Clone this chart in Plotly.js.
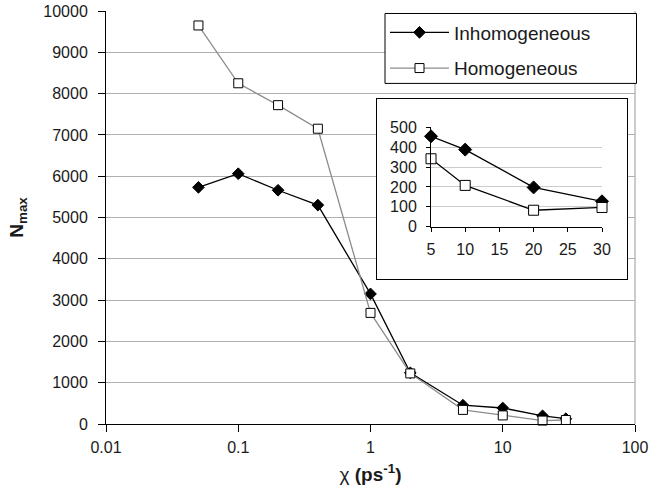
<!DOCTYPE html>
<html>
<head>
<meta charset="utf-8">
<script src="https://cdn.plot.ly/plotly-3.0.1.min.js"></script>
<style>
  html, body { margin: 0; padding: 0; background: #fff; }
  #chart { width: 650px; height: 494px; }
</style>
</head>
<body>
<div id="chart"></div>
<script>
// ---- data ----
const chi = [0.05, 0.1, 0.2, 0.4, 1, 2, 5, 10, 20, 30];
const inhomogeneous = [5730, 6060, 5660, 5300, 3150, 1240, 455, 388, 198, 128];
const homogeneous   = [9650, 8250, 7720, 7150, 2690, 1225, 342, 208, 83, 97];

const insetChi = [5, 10, 20, 30];
const insetInhomogeneous = [455, 388, 198, 128];
const insetHomogeneous   = [342, 208, 83, 97];

const xTickVals = [0.01, 0.1, 1, 10, 100];
const xTickText = ['0.01', '0.1', '1', '10', '100'];
const seriesNames = ['Inhomogeneous', 'Homogeneous'];

// ---- style ----
const FONT = 'Liberation Sans, Arial, sans-serif';
const TXT = '#1a1a1a';

const traces = [
  {
    x: chi, y: inhomogeneous, name: seriesNames[0], type: 'scatter', mode: 'lines+markers',
    line: {color: '#000', width: 1.3},
    marker: {symbol: 'diamond', size: 9, color: '#000', line: {color: '#000', width: 1}},
    cliponaxis: false, legendgroup: 'a'
  },
  {
    x: chi, y: homogeneous, name: seriesNames[1], type: 'scatter', mode: 'lines+markers',
    line: {color: '#8c8c8c', width: 1.3},
    marker: {symbol: 'square', size: 9, color: '#fff', line: {color: '#000', width: 1}},
    cliponaxis: false, legendgroup: 'b'
  },
  // empty trace to create the inset frame subplot
  { x: [], y: [], type: 'scatter', mode: 'markers', xaxis: 'x2', yaxis: 'y2', showlegend: false, hoverinfo: 'skip' },
  {
    x: insetChi, y: insetInhomogeneous, type: 'scatter', mode: 'lines+markers', xaxis: 'x3', yaxis: 'y3',
    showlegend: false, cliponaxis: false,
    line: {color: '#000', width: 1.3},
    marker: {symbol: 'diamond', size: 10, color: '#000', line: {color: '#000', width: 1}}
  },
  {
    x: insetChi, y: insetHomogeneous, type: 'scatter', mode: 'lines+markers', xaxis: 'x3', yaxis: 'y3',
    showlegend: false, cliponaxis: false,
    line: {color: '#000', width: 1.3},
    marker: {symbol: 'square', size: 10, color: '#fff', line: {color: '#000', width: 1}}
  }
];

const L = 106, R = 15, T = 10.5, B = 70;
const W = 650 - L - R, H = 494 - T - B;
const px = v => (v - L) / W;
const py = v => (494 - B - v) / H;

const layout = {
  width: 650, height: 494,
  margin: {l: L, r: R, t: T, b: B, pad: 0},
  paper_bgcolor: '#fff', plot_bgcolor: '#fff',
  font: {family: FONT, size: 16, color: TXT},
  showlegend: true,
  legend: {
    x: px(385), xanchor: 'left', y: py(13), yanchor: 'top',
    bgcolor: 'rgba(0,0,0,0)', borderwidth: 0,
    font: {family: FONT, size: 19, color: TXT},
    itemwidth: 59, tracegroupgap: 8, traceorder: 'grouped'
  },
  xaxis: {
    type: 'log', range: [-2, 2], domain: [0, 1],
    tickvals: xTickVals, ticktext: xTickText,
    ticks: 'outside', ticklen: 7, tickcolor: '#000', tickwidth: 1,
    showline: true, linecolor: '#000', linewidth: 1,
    showgrid: false, zeroline: false,
    tickfont: {family: FONT, size: 16, color: TXT},
    ticklabelstandoff: 2,
    title: {text: 'χ <b>(ps<sup>-1</sup>)</b>', font: {family: FONT, size: 19, color: TXT}, standoff: 12}
  },
  yaxis: {
    range: [0, 10000], domain: [0, 1], dtick: 1000, tick0: 0, tickformat: 'd',
    ticks: 'outside', ticklen: 7, tickcolor: '#000', tickwidth: 1,
    showline: true, linecolor: '#000', linewidth: 1,
    showgrid: true, gridcolor: '#b0b0b0', gridwidth: 1,
    zeroline: false,
    tickfont: {family: FONT, size: 16, color: TXT},
    ticklabelstandoff: 7,
    title: {text: '<b>N<sub>max</sub></b>', font: {family: FONT, size: 19, color: TXT}, standoff: 14}
  },
  // inset frame
  xaxis2: {
    domain: [px(377), px(627)], anchor: 'y2', range: [0, 1],
    showline: true, mirror: true, linecolor: '#000', linewidth: 1,
    showgrid: false, zeroline: false, showticklabels: false, ticks: '', fixedrange: true
  },
  yaxis2: {
    domain: [py(279), py(99)], anchor: 'x2', range: [0, 1],
    showline: true, mirror: true, linecolor: '#000', linewidth: 1,
    showgrid: false, zeroline: false, showticklabels: false, ticks: '', fixedrange: true
  },
  // inset plot
  xaxis3: {
    domain: [px(431), px(602)], anchor: 'y3', range: [5, 30], dtick: 5, tick0: 5,
    ticks: 'outside', ticklen: 4, tickcolor: '#000',
    showline: true, linecolor: '#000', linewidth: 1,
    showgrid: false, zeroline: false,
    tickfont: {family: FONT, size: 16, color: TXT}, ticklabelstandoff: 4
  },
  yaxis3: {
    domain: [py(226.5), py(127)], anchor: 'x3', range: [0, 500], dtick: 100, tick0: 0,
    ticks: 'outside', ticklen: 4, tickcolor: '#000',
    showline: true, linecolor: '#000', linewidth: 1,
    showgrid: true, gridcolor: '#cccccc', gridwidth: 1,
    zeroline: false,
    tickfont: {family: FONT, size: 16, color: TXT}, ticklabelstandoff: 6
  },
  shapes: [
    // right border of main plot area
    {type: 'line', xref: 'paper', yref: 'paper', x0: 1, x1: 1, y0: 0, y1: 1,
     line: {color: '#9a9a9a', width: 1}, layer: 'below'},
    // legend frame
    {type: 'rect', xref: 'paper', yref: 'paper', x0: px(385), x1: px(636.5), y0: py(83), y1: py(13),
     fillcolor: '#fff', line: {color: '#000', width: 1}, layer: 'above'}
  ]
};

Plotly.newPlot('chart', traces, layout, {displayModeBar: false, staticPlot: true});
</script>
</body>
</html>
